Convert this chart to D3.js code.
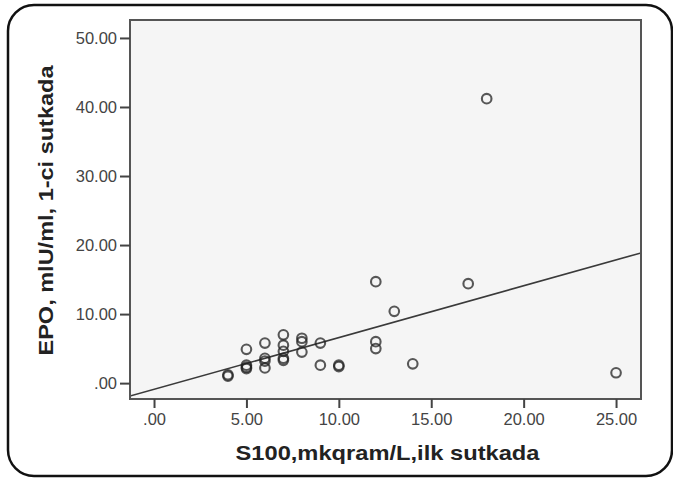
<!DOCTYPE html>
<html>
<head>
<meta charset="utf-8">
<script src="https://cdn.jsdelivr.net/npm/d3@7"></script>
<style>
  html, body { margin: 0; padding: 0; background: #fff; }
  svg { display: block; }
</style>
</head>
<body>
<svg id="chart" width="673" height="480"></svg>
<script>
// ---- Data ----
const s100Values = [4, 4, 5, 5, 5, 5, 6, 6, 6, 6, 7, 7, 7, 7, 7, 8, 8, 8, 9, 9, 10, 10, 12, 12, 12, 13, 14, 17, 18, 25];
const epoValues  = [1.2, 1.0, 4.9, 2.6, 2.3, 2.1, 5.8, 3.6, 3.2, 2.2, 7.0, 5.5, 4.6, 3.6, 3.3, 6.5, 6.0, 4.5, 5.8, 2.6, 2.6, 2.4, 14.7, 6.0, 5.0, 10.4, 2.8, 14.4, 41.2, 1.5];
const xTickValues = [0, 5, 10, 15, 20, 25];
const xTickLabels = [".00", "5.00", "10.00", "15.00", "20.00", "25.00"];
const yTickValues = [0, 10, 20, 30, 40, 50];
const yTickLabels = [".00", "10.00", "20.00", "30.00", "40.00", "50.00"];
const fitIntercept = -0.9;   // fit line
const fitSlope = 0.75;
const xDomain = [-1.3, 26.35];
const yDomain = [-2.3, 52.6];
const xTitle = "S100,mkqram/L,ilk sutkada";
const yTitle = "EPO, mlU/ml, 1-ci sutkada";

// ---- Layout ----
const svg = d3.select("#chart");
const plot = { left: 130, right: 641, top: 20, bottom: 399 };

const x = d3.scaleLinear().domain(xDomain).range([plot.left, plot.right]);
const y = d3.scaleLinear().domain(yDomain).range([plot.bottom, plot.top]);

// outer rounded frame
svg.append("rect")
  .attr("x", 8).attr("y", 5)
  .attr("width", 664).attr("height", 471)
  .attr("rx", 26).attr("ry", 26)
  .attr("fill", "#fff")
  .attr("stroke", "#111")
  .attr("stroke-width", 2.5);

// plot background
svg.append("rect")
  .attr("x", plot.left).attr("y", plot.top)
  .attr("width", plot.right - plot.left).attr("height", plot.bottom - plot.top)
  .attr("fill", "#f5f5f5");

svg.append("clipPath").attr("id", "clip")
  .append("rect")
  .attr("x", plot.left).attr("y", plot.top)
  .attr("width", plot.right - plot.left).attr("height", plot.bottom - plot.top);

// regression line
const fitLine = d3.line().x(d => x(d)).y(d => y(fitIntercept + fitSlope * d));
svg.append("path")
  .attr("clip-path", "url(#clip)")
  .attr("d", fitLine(xDomain))
  .attr("fill", "none")
  .attr("stroke", "#3a3a3a")
  .attr("stroke-width", 1.6);

// points
const points = s100Values.map((v, i) => ({ x: v, y: epoValues[i] }));
svg.append("g").selectAll("circle")
  .data(points)
  .enter().append("circle")
  .attr("cx", d => x(d.x))
  .attr("cy", d => y(d.y))
  .attr("r", 4.8)
  .attr("fill", "none")
  .attr("stroke", "#222")
  .attr("stroke-opacity", 0.75)
  .attr("stroke-width", 2.1);

// plot border
svg.append("rect")
  .attr("x", plot.left).attr("y", plot.top)
  .attr("width", plot.right - plot.left).attr("height", plot.bottom - plot.top)
  .attr("fill", "none")
  .attr("stroke", "#555")
  .attr("stroke-width", 2);

// axes
const xAxis = d3.axisBottom(x)
  .tickValues(xTickValues)
  .tickFormat((d, i) => xTickLabels[i])
  .tickSize(9).tickPadding(5).tickSizeOuter(0);
const gx = svg.append("g").attr("transform", `translate(0,${plot.bottom})`).call(xAxis);
gx.select(".domain").remove();
gx.selectAll(".tick line").attr("stroke", "#444").attr("stroke-width", 2);
gx.selectAll(".tick text")
  .attr("fill", "#444")
  .style("font-family", "'Liberation Sans', Arial, sans-serif")
  .style("font-size", "16.5px");

const yAxis = d3.axisLeft(y)
  .tickValues(yTickValues)
  .tickFormat((d, i) => yTickLabels[i])
  .tickSize(10).tickPadding(3).tickSizeOuter(0);
const gy = svg.append("g").attr("transform", `translate(${plot.left},0)`).call(yAxis);
gy.select(".domain").remove();
gy.selectAll(".tick line").attr("stroke", "#444").attr("stroke-width", 2);
gy.selectAll(".tick text")
  .attr("fill", "#444")
  .style("font-family", "'Liberation Sans', Arial, sans-serif")
  .style("font-size", "16.5px");

// axis titles
svg.append("text")
  .attr("x", (plot.left + plot.right) / 2 + 2)
  .attr("y", 460)
  .attr("text-anchor", "middle")
  .attr("textLength", 304)
  .attr("lengthAdjust", "spacingAndGlyphs")
  .style("font-family", "'Liberation Sans', Arial, sans-serif")
  .style("font-weight", "bold")
  .style("font-size", "21px")
  .attr("fill", "#222")
  .text(xTitle);

svg.append("text")
  .attr("transform", `translate(53,${(plot.top + plot.bottom) / 2 + 1}) rotate(-90)`)
  .attr("text-anchor", "middle")
  .attr("textLength", 290)
  .attr("lengthAdjust", "spacingAndGlyphs")
  .style("font-family", "'Liberation Sans', Arial, sans-serif")
  .style("font-weight", "bold")
  .style("font-size", "21px")
  .attr("fill", "#222")
  .text(yTitle);
</script>
</body>
</html>
